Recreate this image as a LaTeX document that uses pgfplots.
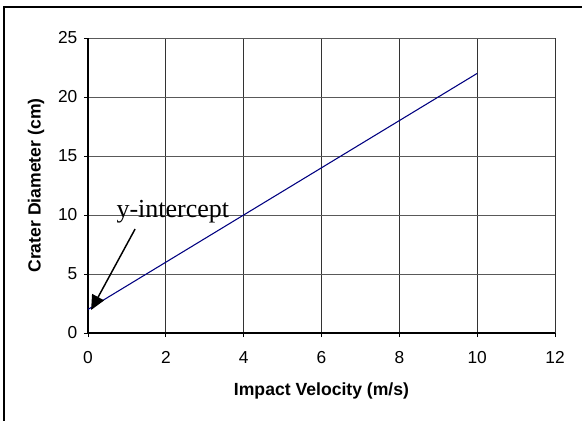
\documentclass[border=0pt]{standalone}
\usepackage{pgfplots}
\pgfplotsset{compat=1.18}
\usepackage{fontspec}
\setmainfont{Liberation Sans}
\newfontfamily\timesfont{Liberation Serif}
\usetikzlibrary{arrows.meta}
\begin{document}
\begin{tikzpicture}
\useasboundingbox (-66pt,-66pt) rectangle (370.5pt,249.75pt);
\draw[line width=0.9pt] (372pt,244.5pt) -- (-63pt,244.5pt) -- (-63pt,-67pt);
\begin{axis}[
  at={(0,0)}, anchor=south west,
  scale only axis, width=350.25pt, height=221.25pt,
  xmin=0, xmax=12, ymin=0, ymax=25,
  xtick={0,2,...,12}, ytick={0,5,...,25},
  axis lines=left, axis line style={-, black, line width=0.8pt},
  grid=major, grid style={black!65, line width=0.6pt},
  x grid style={black!80, line width=0.6pt},
  tick align=outside, major tick length=3pt,
  tick style={black, line width=0.6pt},
  tick label style={font=\fontsize{13pt}{15pt}\selectfont},
  xticklabel style={yshift=-7.5pt},
  yticklabel style={xshift=-1.5pt},
  /pgf/number format/assume math mode=true,
  xlabel={Impact Velocity (m/s)}, ylabel={Crater Diameter (cm)},
  label style={font=\fontsize{13.2pt}{15pt}\selectfont\bfseries},
  xlabel style={at={(axis description cs:0.5,-0.1966)}, anchor=center},
  ylabel style={at={(axis description cs:-0.1113,0.5)}, anchor=center},
  clip=false,
]
\addplot[color={rgb,255:red,0;green,0;blue,128}, line width=0.8pt] coordinates {
  (0,2) (1,4) (2,6) (3,8) (4,10) (5,12) (6,14) (7,16) (8,18) (9,20) (10,22)
};
\draw[-{Triangle[length=11pt,width=10pt]}, line width=1.1pt] (axis cs:1.21,8.81) -- (axis cs:0.08,1.95);
\node[font=\timesfont\fontsize{19.5pt}{22pt}\selectfont, inner sep=0pt] at (axis cs:2.18,10.3) {y-intercept};
\end{axis}
\end{tikzpicture}
\end{document}
